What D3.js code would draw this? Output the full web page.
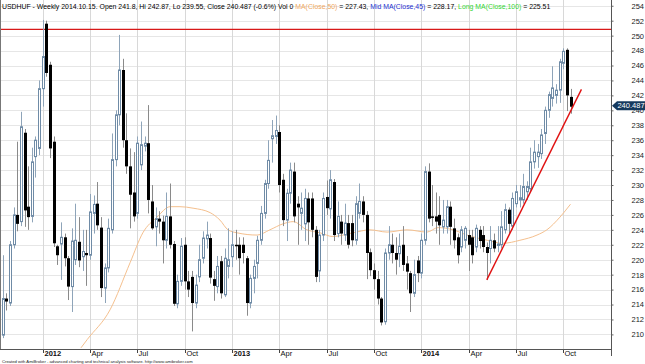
<!DOCTYPE html>
<html>
<head>
<meta charset="utf-8">
<style>
  body { margin: 0; background: #fff; }
  svg { display: block; font-family: Arial, "Liberation Sans", sans-serif; }
</style>
<script src="https://d3js.org/d3.v7.min.js"></script>
</head>
<body>
<div id="chart"></div>
<script>
const width = 645, height = 364;
const plotRight = 611, plotBottom = 349;

// weekly bars, USDHUF, Oct 2011 .. Oct 2014
const opens = [209.9,214.8,214.2,222.0,226.0,225.1,237.0,227.1,225.8,233.8,234.9,242.9,251.6,246.1,235.8,221.8,222.1,223.0,220.2,216.4,
  220.0,222.4,220.4,220.9,220.6,226.2,227.5,224.3,216.2,218.9,224.0,233.4,239.4,245.4,236.0,232.5,229.0,226.2,232.7,235.2,
  235.6,227.8,224.4,225.5,225.1,222.6,225.8,222.1,214.1,217.1,222.0,217.1,217.7,214.2,217.7,220.2,222.8,222.9,217.4,216.4,
  219.8,215.3,219.1,220.4,222.0,222.0,222.0,220.2,214.2,217.5,219.5,222.6,226.2,230.2,236.2,236.5,237.1,230.7,225.3,228.9,
  231.8,227.5,226.2,224.8,228.2,228.2,224.0,218.5,223.3,228.4,226.8,230.4,223.5,225.1,223.3,224.9,224.9,222.6,226.2,227.8,
  226.0,221.0,218.6,217.4,214.8,211.7,220.9,222.0,220.9,220.8,222.0,219.5,218.2,215.5,219.9,218.2,222.6,231.8,225.8,225.8,
  226.0,224.4,224.4,227.1,224.2,223.0,221.7,222.6,223.3,223.0,221.7,224.0,223.3,221.7,221.5,222.6,221.9,222.0,224.0,226.7,
  224.5,227.5,228.0,228.0,229.1,229.5,233.1,233.8,234.2,236.9,240.0,241.6,242.0,242.7,246.3,248.1,241.8];
const highs = [220.6,215.5,222.5,227.0,235.8,239.8,237.5,232.5,235.0,236.5,244.0,252.1,252.0,246.5,236.5,222.0,225.0,223.5,220.5,224.2,
  227.5,225.7,224.0,224.0,228.8,228.6,230.4,225.7,219.5,225.5,236.9,240.0,250.1,246.9,239.6,234.9,234.4,236.5,238.5,236.5,
  240.7,230.0,227.0,226.5,225.9,229.0,230.2,222.5,218.0,222.9,223.0,218.5,218.5,218.0,222.0,223.8,225.1,223.5,218.5,220.5,
  220.5,221.5,224.2,223.8,224.0,223.0,223.0,220.5,218.0,220.0,223.2,227.2,230.7,236.0,238.7,239.3,238.0,231.5,229.5,233.0,
  233.0,228.5,229.0,229.5,229.0,229.0,224.5,224.0,229.0,230.6,232.0,230.8,227.8,226.0,227.5,226.0,226.0,228.5,230.2,228.5,
  226.5,221.5,219.5,218.5,215.0,221.5,224.5,223.5,223.0,223.5,224.5,220.5,218.5,220.0,220.5,223.5,232.5,232.9,230.0,229.0,
  228.5,228.0,228.0,227.8,225.5,223.5,224.5,224.5,224.0,224.0,224.7,224.5,224.5,222.3,224.5,223.5,224.5,226.5,227.5,227.0,
  229.0,230.0,230.0,231.5,230.5,235.0,236.0,235.5,237.5,240.5,242.5,245.9,243.5,246.9,248.3,248.3,242.87];
const lows = [209.5,213.2,213.8,221.5,223.8,224.5,224.4,224.0,225.0,231.0,234.0,240.5,244.5,233.6,221.7,219.3,217.3,219.1,214.6,213.0,
  219.3,219.0,218.5,216.5,220.0,223.5,224.0,215.0,214.2,218.3,223.5,232.5,238.0,235.0,231.5,224.2,225.1,225.5,232.0,234.5,
  226.2,224.0,221.8,223.5,219.5,221.5,221.5,213.8,213.5,216.5,216.0,215.0,210.4,213.5,217.0,219.5,221.5,216.8,214.5,215.5,
  214.8,215.0,217.5,219.0,220.0,218.0,219.5,212.5,213.5,215.5,217.5,222.0,225.5,229.5,233.0,235.5,229.0,224.5,222.5,227.5,
  225.0,222.0,224.0,222.5,222.0,223.0,217.0,217.0,222.5,226.0,225.5,222.5,223.0,222.0,222.5,221.5,221.8,222.0,225.5,225.0,
  217.4,217.8,216.0,214.0,211.2,211.3,220.0,219.5,218.0,219.0,218.5,216.0,213.0,215.0,217.0,217.5,222.0,225.0,224.5,223.5,
  222.0,223.5,223.5,222.0,221.5,219.5,221.0,221.5,218.5,219.5,221.0,221.5,221.0,217.3,219.5,221.0,221.0,221.5,223.5,223.5,
  224.0,227.0,227.0,227.5,228.0,229.0,232.2,232.3,233.5,235.5,239.0,240.5,240.9,241.0,245.5,239.9,239.55];
const closes = [214.8,214.4,222.0,226.0,224.8,237.8,226.6,225.7,233.1,236.0,242.9,247.2,245.0,234.9,222.2,220.6,223.0,220.2,216.4,222.5,
  222.6,219.9,221.1,220.6,226.4,227.4,224.6,216.2,218.9,224.2,233.4,239.4,245.4,236.0,232.5,228.7,225.8,235.6,235.4,235.6,
  228.0,224.2,225.5,225.1,222.6,225.8,222.0,214.1,217.1,221.8,217.1,216.0,214.2,216.6,220.0,222.9,223.3,217.6,216.5,219.1,
  215.5,220.2,220.0,222.0,221.8,220.2,220.9,214.2,217.5,219.1,222.6,226.2,230.2,233.3,236.6,237.3,230.0,225.3,228.9,232.0,
  225.8,227.0,226.9,228.2,225.0,224.0,217.7,223.3,228.2,226.9,230.7,223.3,225.8,223.5,224.9,222.0,222.6,227.5,227.8,226.0,
  220.9,218.6,217.4,214.8,211.6,220.9,222.0,220.9,220.0,221.8,219.3,218.4,215.5,218.0,218.2,222.6,231.8,225.5,225.6,225.1,
  224.6,225.3,227.1,224.4,222.6,220.6,224.0,224.2,222.0,220.6,224.2,222.5,221.7,220.9,222.6,221.5,222.1,224.4,226.7,224.8,
  228.2,229.1,228.3,229.8,229.8,233.1,234.4,234.4,236.7,240.0,242.1,243.0,242.7,246.5,247.9,242.0,240.487];

// MA(Close,50) read at points along the orange line: [bar index, value]
const maIdx = [21.5,23.2,29.5,35,38.5,42.4,46,48.7,52.3,57,59.7,61.9,64.4,69.9,73.4,77,79.8,83.6,87.2,90.7,
  96.2,100.9,105.6,111.1,116.6,119.6,123.7,127.6,133.1,137.4,142.1,146.8,149.5,153.1,156];
const maVal = [208.2,209.3,213.3,219.6,223.6,225.7,227.1,227.1,226.9,226.3,225.3,224.0,223.6,223.3,224.0,224.8,225.1,224.0,223.6,223.1,
  223.6,224.0,223.7,224.0,223.7,224.3,224.0,223.3,222.6,222.2,222.6,223.3,224.0,225.7,227.43];

// drawn lines
const resistance = 250.85;
const trendIdx = [133, 159];
const trendVal = [217.3, 242.8];
const lastClose = 240.487;

// axes
const yTicks = [210,212,214,216,218,220,222,224,226,228,230,232,234,236,238,240,242,244,246,248,250,252,254];
const xTickIdx = [11,24,37,50,63,76,89,102,115,128,141,154];
const xTickLabels = ["2012","Apr","Jul","Oct","2013","Apr","Jul","Oct","2014","Apr","Jul","Oct"];

const titleParts = [
  ["USDHUF - Weekly 2014.10.15. Open 241.8, Hi 242.87, Lo 239.55, Close 240.487 (-0.6%) Vol 0 ", "#000"],
  ["MA(Close,50)", "#f0a860"],
  [" = 227.43, ", "#000"],
  ["Mid MA(Close,45)", "#1c2fd0"],
  [" = 228.17, ", "#000"],
  ["Long MA(Close,100)", "#33d633"],
  [" = 225.51", "#000"]
];

const svg = d3.select("#chart").append("svg")
    .attr("width", width)
    .attr("height", height);

const x = d3.scaleLinear().domain([0, 156]).range([2.7, 570.5]);
const y = d3.scaleLinear().domain([210, 252]).range([334.4, 20.7]);
const px = v => Math.round(x(v)) + 0.5; // crisp pixel column

svg.append("defs").append("clipPath").attr("id", "plot")
  .append("rect").attr("x", 0).attr("y", 0).attr("width", plotRight).attr("height", plotBottom);

// grid
svg.append("g").selectAll("line").data(yTicks).enter().append("line")
    .attr("x1", 0).attr("x2", plotRight)
    .attr("y1", d => Math.round(y(d)) + 0.5).attr("y2", d => Math.round(y(d)) + 0.5)
    .attr("stroke", "#e6e6e6");
svg.append("g").selectAll("line").data(xTickIdx).enter().append("line")
    .attr("x1", d => px(d)).attr("x2", d => px(d))
    .attr("y1", 0).attr("y2", plotBottom)
    .attr("stroke", "#d8d8d8");

const plot = svg.append("g").attr("clip-path", "url(#plot)");

// resistance line
plot.append("line")
    .attr("x1", 0).attr("x2", plotRight)
    .attr("y1", y(resistance)).attr("y2", y(resistance))
    .attr("stroke", "#d81818").attr("stroke-width", 1.2);

// MA line
const maPts = maIdx.map((d, i) => [d, maVal[i]]);
plot.append("path")
    .attr("d", d3.line().x(d => x(d[0])).y(d => y(d[1])).curve(d3.curveMonotoneX)(maPts))
    .attr("fill", "none").attr("stroke", "#f5c08e").attr("stroke-width", 1);

// candles
const bars = opens.map((o, i) => ({ i, o, h: highs[i], l: lows[i], c: closes[i] }));
const candle = plot.append("g").selectAll("g").data(bars).enter().append("g");
candle.append("line")
    .attr("x1", d => px(d.i)).attr("x2", d => px(d.i))
    .attr("y1", d => y(d.h)).attr("y2", d => y(d.l))
    .attr("stroke", d => d.c >= d.o ? "#8ea4b9" : "#8a8a8a")
    .attr("stroke-width", 1);
candle.append("rect")
    .attr("x", d => d.c >= d.o ? px(d.i) - 1 : px(d.i) - 1.5)
    .attr("width", d => d.c >= d.o ? 2 : 3)
    .attr("y", d => y(Math.max(d.o, d.c)))
    .attr("height", d => Math.max(1, Math.abs(y(d.o) - y(d.c))))
    .attr("fill", d => d.c >= d.o ? "#fff" : "#000")
    .attr("stroke", d => d.c >= d.o ? "#6f8ba6" : "none")
    .attr("stroke-width", 1);

// trend line
plot.append("line")
    .attr("x1", x(trendIdx[0])).attr("y1", y(trendVal[0]))
    .attr("x2", x(trendIdx[1])).attr("y2", y(trendVal[1]))
    .attr("stroke", "#e01010").attr("stroke-width", 1.4);

// frame
svg.append("line").attr("x1", 0.5).attr("x2", 0.5).attr("y1", 0).attr("y2", plotBottom).attr("stroke", "#777");
svg.append("line").attr("x1", plotRight + 0.5).attr("x2", plotRight + 0.5).attr("y1", 0).attr("y2", 356).attr("stroke", "#555");
svg.append("line").attr("x1", 0).attr("x2", plotRight).attr("y1", plotBottom + 0.5).attr("y2", plotBottom + 0.5).attr("stroke", "#555");

// right axis
const yAxis = svg.append("g")
    .attr("transform", `translate(${plotRight + 0.5},0)`)
    .call(d3.axisRight(y).tickValues(yTicks).tickSize(2).tickPadding(18).tickFormat(d3.format("d")));
yAxis.select(".domain").remove();
yAxis.selectAll("text").attr("font-size", "7.5px").attr("fill", "#222").attr("font-family", "Arial, 'Liberation Sans', sans-serif");
yAxis.selectAll("line").attr("stroke", "#666");

// bottom axis
const xAxis = svg.append("g")
    .attr("transform", `translate(0,${plotBottom})`)
    .call(d3.axisBottom(x).tickValues(xTickIdx).tickSize(4).tickFormat((d, i) => xTickLabels[i]));
xAxis.select(".domain").remove();
xAxis.selectAll(".tick").attr("transform", d => `translate(${px(d)},0)`);
xAxis.selectAll("line").attr("stroke", "#444").attr("x1", 0).attr("x2", 0).attr("y1", 1).attr("y2", 4);
xAxis.selectAll("text")
    .attr("text-anchor", "start").attr("x", 1).attr("y", 1.2)
    .attr("font-size", "7.5px").attr("fill", "#111")
    .attr("font-family", "Arial, 'Liberation Sans', sans-serif")
    .attr("font-weight", (d, i) => /^\d/.test(xTickLabels[i]) ? "bold" : "normal");

// last value marker
const ly = y(lastClose) - 1;
svg.append("path")
    .attr("d", `M${plotRight + 1},${ly} L${plotRight + 6},${ly - 4.5} L${width},${ly - 4.5} L${width},${ly + 4.5} L${plotRight + 6},${ly + 4.5} Z`)
    .attr("fill", "#163a5e");
svg.append("text")
    .attr("x", 631).attr("y", ly + 2.7)
    .attr("text-anchor", "middle")
    .attr("font-size", "7.5px").attr("fill", "#fff")
    .text(lastClose.toFixed(3));

// title
const title = svg.append("text").attr("x", 2).attr("y", 8.5).attr("font-size", "10px");
titleParts.forEach(p => title.append("tspan").attr("fill", p[1]).text(p[0]));
const tl = title.node().getComputedTextLength();
title.attr("font-size", (10 * 549 / tl) + "px");

// footer
const foot = svg.append("text").attr("x", 2).attr("y", 362.5).attr("font-size", "10px").attr("fill", "#222")
    .text("Created with AmiBroker - advanced charting and technical analysis software. http://www.amibroker.com");
const fl = foot.node().getComputedTextLength();
foot.attr("font-size", (10 * 191 / fl) + "px");
</script>
</body>
</html>
